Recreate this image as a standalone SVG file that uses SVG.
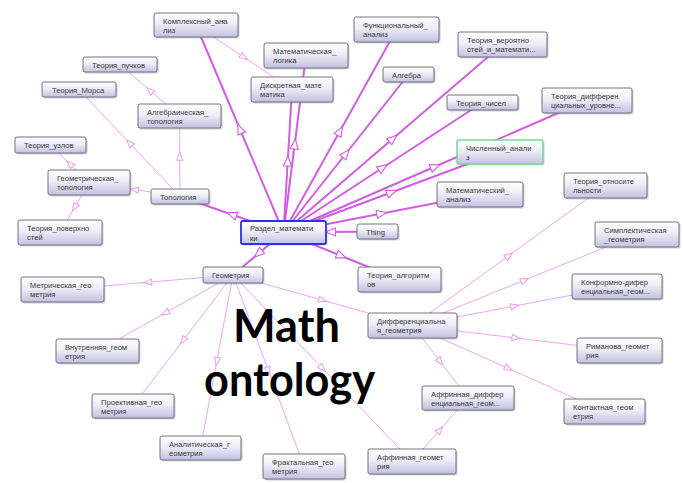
<svg xmlns="http://www.w3.org/2000/svg" width="683" height="483" viewBox="0 0 683 483">
<style>
.b{fill:url(#g);stroke:#72727e;stroke-width:1}
.s{fill:#7a7a88;opacity:.35}
.n text{font-family:"Liberation Sans",Arial,sans-serif;font-size:7.6px;fill:#3a3a3a}
.e path{fill:none}
.tk{stroke:#d05ee0;stroke-width:2;marker-mid:url(#ah)}
.tn{stroke:#f0a6f0;stroke-width:1;marker-mid:url(#al)}
.big{font-family:Lato,"Open Sans","Liberation Sans",sans-serif;font-weight:bold;font-size:45px;fill:#000}
</style>
<defs>
<linearGradient id="g" x1="0" y1="0" x2="0" y2="1">
<stop offset="0" stop-color="#ffffff"/>
<stop offset="0.45" stop-color="#eeedf8"/>
<stop offset="1" stop-color="#c3c1e2"/>
</linearGradient>
<marker id="ah" markerUnits="userSpaceOnUse" viewBox="-1 -1 12 10" markerWidth="12" markerHeight="10" refX="5" refY="4" orient="auto">
<path d="M0,0 L10,4 L0,8 Z" fill="#fff" stroke="#d05ee0" stroke-width="1.1"/>
</marker>
<marker id="al" markerUnits="userSpaceOnUse" viewBox="-1 -1 10 8" markerWidth="10" markerHeight="8" refX="4" refY="3" orient="auto">
<path d="M0,0 L8,3 L0,6 Z" fill="#fff" stroke="#ee99ee" stroke-width="1"/>
</marker>
</defs>
<rect width="683" height="483" fill="#fff"/>
<g id="connectors" class="e">
<path class="tn" d="M180 196.5 L134.5 189.5 L89 182.5"/>
<path class="tn" d="M180 196.5 L179.75 156.25 L179.5 116"/>
<path class="tn" d="M180 196.5 L129.5 143 L79 89.5"/>
<path class="tn" d="M179.5 116 L149.75 90.25 L120 64.5"/>
<path class="tn" d="M89 182.5 L69.75 163.75 L50.5 145"/>
<path class="tn" d="M89 182.5 L74.5 207.5 L60 232.5"/>
<path class="tn" d="M196 25 L244 57.25 L292 89.5"/>
<path class="tn" d="M233 275 L147.75 282.25 L62.5 289.5"/>
<path class="tn" d="M233 275 L165.25 313 L97.5 351"/>
<path class="tn" d="M233 275 L183 340.5 L133 406"/>
<path class="tn" d="M233 275 L216.75 361.5 L200.5 448"/>
<path class="tn" d="M233 275 L268.5 370.75 L304 466.5"/>
<path class="tn" d="M233 275 L322.5 368.25 L412 461.5"/>
<path class="tn" d="M233 275 L322.75 300.25 L412.5 325.5"/>
<path class="tn" d="M412.5 325.5 L509 255.5 L605.5 185.5"/>
<path class="tn" d="M412.5 325.5 L524.75 280 L637 234.5"/>
<path class="tn" d="M412.5 325.5 L514.75 306 L617 286.5"/>
<path class="tn" d="M412.5 325.5 L516 338 L619.5 350.5"/>
<path class="tn" d="M412.5 325.5 L508.5 368.5 L604.5 411.5"/>
<path class="tn" d="M412.5 325.5 L440.25 361.75 L468 398"/>
<path class="tn" d="M412 461.5 L440 429.75 L468 398"/>
<path class="tk" d="M283.5 232.5 L239.75 128.75 L196 25"/>
<path class="tk" d="M283.5 232.5 L294.75 144 L306 55.5"/>
<path class="tk" d="M283.5 232.5 L287.75 161 L292 89.5"/>
<path class="tk" d="M283.5 232.5 L340 131 L396.5 29.5"/>
<path class="tk" d="M283.5 232.5 L346 153.5 L408.5 74.5"/>
<path class="tk" d="M283.5 232.5 L393 138.5 L502.5 44.5"/>
<path class="tk" d="M283.5 232.5 L383 167.5 L482.5 102.5"/>
<path class="tk" d="M283.5 232.5 L435.25 166.5 L587 100.5"/>
<path class="tk" d="M283.5 232.5 L391.75 192.25 L500 152"/>
<path class="tk" d="M283.5 232.5 L381.75 213.5 L480 194.5"/>
<path class="tk" d="M283.5 232.5 L231.75 214.5 L180 196.5"/>
<path class="tk" d="M283.5 232.5 L258.25 253.75 L233 275"/>
<path class="tk" d="M283.5 232.5 L341.5 256 L399.5 279.5"/>
<path class="tk" d="M377.5 231.5 L330.5 232 L283.5 232.5"/>
</g>
<g id="n1" class="n"><rect class="s" x="155.5" y="14.5" width="84" height="24" rx="2"/><rect class="b" x="154" y="13" width="84" height="24" rx="2"/><text x="163" y="23.5">Комплексный_ана</text><text x="163" y="32.5">лиз</text></g>
<g id="n2" class="n"><rect class="s" x="84.5" y="58.5" width="74" height="15" rx="2"/><rect class="b" x="83" y="57" width="74" height="15" rx="2"/><text x="92" y="67.5">Теория_пучков</text></g>
<g id="n3" class="n"><rect class="s" x="43.5" y="83.5" width="74" height="15" rx="2"/><rect class="b" x="42" y="82" width="74" height="15" rx="2"/><text x="52" y="92.5">Теория_Морса</text></g>
<g id="n4" class="n"><rect class="s" x="139.5" y="105.5" width="83" height="24" rx="2"/><rect class="b" x="138" y="104" width="83" height="24" rx="2"/><text x="147" y="114.5">Алгебраическая_</text><text x="147" y="123.5">топология</text></g>
<g id="n5" class="n"><rect class="s" x="16.5" y="138.5" width="71" height="16" rx="2"/><rect class="b" x="15" y="137" width="71" height="16" rx="2"/><text x="24" y="148">Теория_узлов</text></g>
<g id="n6" class="n"><rect class="s" x="49.5" y="171.5" width="82" height="25" rx="2"/><rect class="b" x="48" y="170" width="82" height="25" rx="2"/><text x="57" y="180.5">Геометрическая_</text><text x="57" y="189.5">топология</text></g>
<g id="n7" class="n"><rect class="s" x="152.5" y="190.5" width="58" height="15" rx="2"/><rect class="b" x="151" y="189" width="58" height="15" rx="2"/><text x="160" y="199.5">Топология</text></g>
<g id="n8" class="n"><rect class="s" x="19.5" y="221.5" width="84" height="25" rx="2"/><rect class="b" x="18" y="220" width="84" height="25" rx="2"/><text x="27" y="230.5">Теория_поверхно</text><text x="27" y="239.5">стей</text></g>
<g id="n9" class="n"><rect class="s" x="242.5" y="222.5" width="85" height="23" rx="2"/><rect class="b" x="241" y="221" width="85" height="23" rx="2" style="stroke:#2f2ff0;stroke-width:1.8"/><text x="250" y="231">Раздел_математи</text><text x="250" y="240.5">ки</text></g>
<g id="n10" class="n"><rect class="s" x="358.5" y="225.5" width="41" height="15" rx="2"/><rect class="b" x="357" y="224" width="41" height="15" rx="2"/><text x="366" y="234.5">Thing</text></g>
<g id="n11" class="n"><rect class="s" x="204.5" y="268.5" width="60" height="16" rx="2"/><rect class="b" x="203" y="267" width="60" height="16" rx="2"/><text x="212" y="278">Геометрия</text></g>
<g id="n12" class="n"><rect class="s" x="359.5" y="268.5" width="83" height="25" rx="2"/><rect class="b" x="358" y="267" width="83" height="25" rx="2"/><text x="367" y="277.5">Теория_алгоритм</text><text x="367" y="286.5">ов</text></g>
<g id="n13" class="n"><rect class="s" x="22.5" y="278.5" width="83" height="25" rx="2"/><rect class="b" x="21" y="277" width="83" height="25" rx="2"/><text x="30" y="287.5">Метрическая_гео</text><text x="30" y="296.5">метрия</text></g>
<g id="n14" class="n"><rect class="s" x="265.5" y="44.5" width="84" height="25" rx="2"/><rect class="b" x="264" y="43" width="84" height="25" rx="2"/><text x="273" y="53.5">Математическая_</text><text x="273" y="62.5">логика</text></g>
<g id="n15" class="n"><rect class="s" x="252.5" y="78.5" width="82" height="25" rx="2"/><rect class="b" x="251" y="77" width="82" height="25" rx="2"/><text x="260" y="87.5">Дискретная_мате</text><text x="260" y="96.5">матика</text></g>
<g id="n16" class="n"><rect class="s" x="355.5" y="18.5" width="85" height="25" rx="2"/><rect class="b" x="354" y="17" width="85" height="25" rx="2"/><text x="363" y="27.5">Функциональный_</text><text x="363" y="36.5">анализ</text></g>
<g id="n17" class="n"><rect class="s" x="384.5" y="68.5" width="51" height="15" rx="2"/><rect class="b" x="383" y="67" width="51" height="15" rx="2"/><text x="392" y="77.5">Алгебра</text></g>
<g id="n18" class="n"><rect class="s" x="459.5" y="33.5" width="89" height="25" rx="2"/><rect class="b" x="458" y="32" width="89" height="25" rx="2"/><text x="467" y="42.5">Теория_вероятно</text><text x="467" y="51.5">стей_и_математи...</text></g>
<g id="n19" class="n"><rect class="s" x="448.5" y="96.5" width="71" height="15" rx="2"/><rect class="b" x="447" y="95" width="71" height="15" rx="2"/><text x="456" y="105.5">Теория_чисел</text></g>
<g id="n20" class="n"><rect class="s" x="543.5" y="89.5" width="90" height="25" rx="2"/><rect class="b" x="542" y="88" width="90" height="25" rx="2"/><text x="551" y="98.5">Теория_дифферен</text><text x="551" y="107.5">циальных_уровне...</text></g>
<g id="n21" class="n"><rect class="s" x="458.5" y="141.5" width="86" height="24" rx="2"/><rect class="b" x="457" y="140" width="86" height="24" rx="2" style="stroke:#70dc98;stroke-width:1.5"/><text x="466" y="150.5">Численный_анали</text><text x="466" y="159.5">з</text></g>
<g id="n22" class="n"><rect class="s" x="438.5" y="183.5" width="86" height="25" rx="2"/><rect class="b" x="437" y="182" width="86" height="25" rx="2"/><text x="446" y="192.5">Математический_</text><text x="446" y="201.5">анализ</text></g>
<g id="n23" class="n"><rect class="s" x="565.5" y="174.5" width="83" height="25" rx="2"/><rect class="b" x="564" y="173" width="83" height="25" rx="2"/><text x="573" y="183.5">Теория_относите</text><text x="573" y="192.5">льности</text></g>
<g id="n24" class="n"><rect class="s" x="596.5" y="223.5" width="84" height="25" rx="2"/><rect class="b" x="595" y="222" width="84" height="25" rx="2"/><text x="604" y="232.5">Симплектическая</text><text x="604" y="241.5">_геометрия</text></g>
<g id="n25" class="n"><rect class="s" x="573.5" y="275.5" width="90" height="25" rx="2"/><rect class="b" x="572" y="274" width="90" height="25" rx="2"/><text x="581" y="284.5">Конформно-дифер</text><text x="581" y="293.5">енциальная_геом...</text></g>
<g id="n26" class="n"><rect class="s" x="369.5" y="314.5" width="89" height="25" rx="2"/><rect class="b" x="368" y="313" width="89" height="25" rx="2"/><text x="377" y="323.5">Дифференциальна</text><text x="377" y="332.5">я_геометрия</text></g>
<g id="n27" class="n"><rect class="s" x="578.5" y="339.5" width="85" height="25" rx="2"/><rect class="b" x="577" y="338" width="85" height="25" rx="2"/><text x="586" y="348.5">Риманова_геомет</text><text x="586" y="357.5">рия</text></g>
<g id="n28" class="n"><rect class="s" x="57.5" y="340.5" width="83" height="24" rx="2"/><rect class="b" x="56" y="339" width="83" height="24" rx="2"/><text x="65" y="349.5">Внутренняя_геом</text><text x="65" y="358.5">етрия</text></g>
<g id="n29" class="n"><rect class="s" x="423.5" y="387.5" width="92" height="24" rx="2"/><rect class="b" x="422" y="386" width="92" height="24" rx="2"/><text x="431" y="396.5">Аффинная_диффер</text><text x="431" y="405.5">енциальная_геом...</text></g>
<g id="n30" class="n"><rect class="s" x="93.5" y="395.5" width="82" height="24" rx="2"/><rect class="b" x="92" y="394" width="82" height="24" rx="2"/><text x="101" y="404.5">Проективная_гео</text><text x="101" y="413.5">метрия</text></g>
<g id="n31" class="n"><rect class="s" x="565.5" y="400.5" width="81" height="25" rx="2"/><rect class="b" x="564" y="399" width="81" height="25" rx="2"/><text x="573" y="409.5">Контактная_геом</text><text x="573" y="418.5">етрия</text></g>
<g id="n32" class="n"><rect class="s" x="161.5" y="437.5" width="81" height="24" rx="2"/><rect class="b" x="160" y="436" width="81" height="24" rx="2"/><text x="169" y="446.5">Аналитическая_г</text><text x="169" y="455.5">еометрия</text></g>
<g id="n33" class="n"><rect class="s" x="369.5" y="450.5" width="88" height="25" rx="2"/><rect class="b" x="368" y="449" width="88" height="25" rx="2"/><text x="377" y="459.5">Аффинная_геомет</text><text x="377" y="468.5">рия</text></g>
<g id="n34" class="n"><rect class="s" x="264.5" y="455.5" width="82" height="25" rx="2"/><rect class="b" x="263" y="454" width="82" height="25" rx="2"/><text x="272" y="464.5">Фрактальная_гео</text><text x="272" y="473.5">метрия</text></g>
<g id="title">
<text class="big" x="233" y="342" textLength="107" lengthAdjust="spacingAndGlyphs">Math</text>
<text class="big" x="204" y="396" textLength="171" lengthAdjust="spacingAndGlyphs">ontology</text>
</g>
</svg>
